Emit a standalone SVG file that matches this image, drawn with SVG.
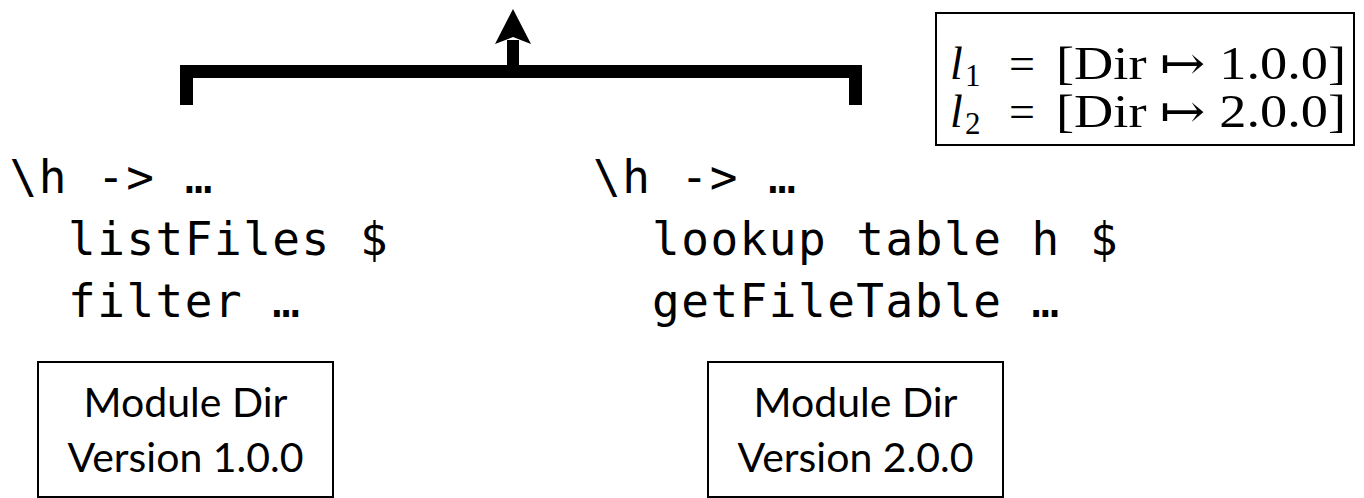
<svg xmlns="http://www.w3.org/2000/svg" width="1364" height="498" viewBox="0 0 1364 498">
  <style>
    .code { font-family: "DejaVu Sans Mono", "Liberation Mono", monospace; font-size: 46px; letter-spacing: 1.5px; fill: #000; }
    .label { font-family: Lato, "Open Sans", sans-serif; font-size: 41px; fill: #000; text-anchor: middle; }
    .math { font-family: "Liberation Serif", "DejaVu Serif", serif; font-size: 46px; fill: #000; }
    .var { font-style: italic; }
    .sub { font-size: 31px; }
    .box { fill: #fff; stroke: #000; stroke-width: 2; }
    .wire { fill: none; stroke: #000; stroke-width: 13; stroke-linejoin: miter; stroke-linecap: butt; }
  </style>

  <!-- combining bracket with upward arrow -->
  <g id="connectors">
    <path class="wire" d="M186.5,105 V71.5 H855.5 V105"/>
    <path d="M513,71.5 V40" stroke="#000" stroke-width="12" fill="none"/>
    <path d="M513,9 L495,44 L513,37 L531,44 Z" fill="#000"/>
  </g>

  <!-- lock-file mapping -->
  <g id="lockfile">
    <rect class="box" x="936" y="13" width="418" height="132"/>
    <text class="math var" x="950" y="79">l</text>
    <text class="math sub" x="965" y="86">1</text>
    <text class="math" x="1022" y="79" text-anchor="middle">=</text>
    <text class="math" x="1056" y="79" textLength="290" lengthAdjust="spacingAndGlyphs">[Dir ↦ 1.0.0]</text>
    <text class="math var" x="950" y="127">l</text>
    <text class="math sub" x="965" y="134">2</text>
    <text class="math" x="1022" y="127" text-anchor="middle">=</text>
    <text class="math" x="1056" y="127" textLength="290" lengthAdjust="spacingAndGlyphs">[Dir ↦ 2.0.0]</text>
  </g>

  <!-- implementation from version 1.0.0 -->
  <g id="code-v1">
    <text class="code" x="9.5" y="193">\h -&gt; …</text>
    <text class="code" x="68" y="255">listFiles $</text>
    <text class="code" x="68" y="317">filter …</text>
  </g>

  <!-- implementation from version 2.0.0 -->
  <g id="code-v2">
    <text class="code" x="593" y="193">\h -&gt; …</text>
    <text class="code" x="652" y="255">lookup table h $</text>
    <text class="code" x="652" y="317">getFileTable …</text>
  </g>

  <g id="module-v1">
    <rect class="box" x="38" y="362" width="295" height="135"/>
    <text class="label" x="185.5" y="417">Module Dir</text>
    <text class="label" x="185.5" y="472">Version 1.0.0</text>
  </g>

  <g id="module-v2">
    <rect class="box" x="708" y="362" width="295" height="135"/>
    <text class="label" x="855.5" y="417">Module Dir</text>
    <text class="label" x="855.5" y="472">Version 2.0.0</text>
  </g>
</svg>
